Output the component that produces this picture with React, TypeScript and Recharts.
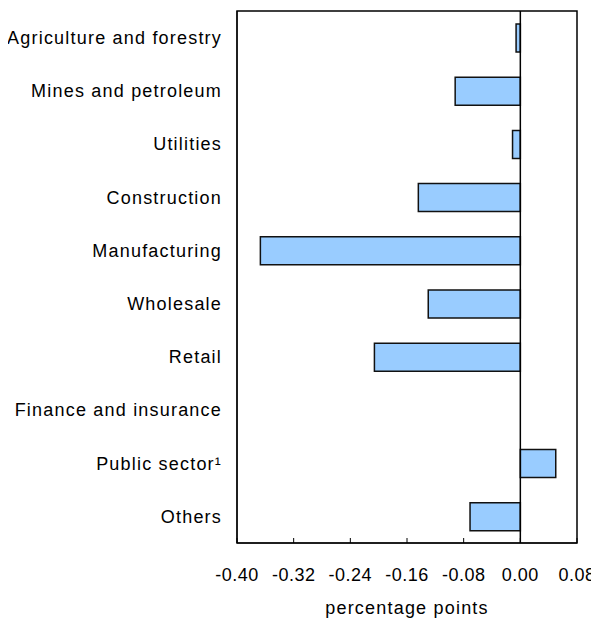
import { Bar, BarChart, ReferenceArea, ReferenceLine, XAxis, YAxis } from "recharts";

const categories = [
  "Agriculture and forestry",
  "Mines and petroleum",
  "Utilities",
  "Construction",
  "Manufacturing",
  "Wholesale",
  "Retail",
  "Finance and insurance",
  "Public sector\u00b9",
  "Others",
];

const contributions = [-0.006, -0.092, -0.011, -0.144, -0.367, -0.13, -0.206, 0, 0.05, -0.071];

const xTicks = [-0.4, -0.32, -0.24, -0.16, -0.08, 0, 0.08];

const data = categories.map((name, i) => ({ name, value: contributions[i] }));

const FONT = "'Liberation Sans', Arial, sans-serif";
const textStyle = { fill: "#000", fontSize: 18, letterSpacing: 1.2 };

export default function App() {
  return (
    <div style={{ width: 591, height: 610, fontFamily: FONT }}>
      {/* no scrollbars: the chart fills the window right to its edges */}
      <style>{"html,body{overflow:hidden}"}</style>
      <BarChart
        width={591}
        height={610}
        data={data}
        layout="vertical"
        margin={{ top: 3, right: 22, left: 0, bottom: 4 }}
      >
        <XAxis
          type="number"
          domain={[-0.4, 0.08]}
          ticks={xTicks}
          tickFormatter={(v: number) => v.toFixed(2)}
          interval={0}
          stroke="#000"
          tick={{ ...textStyle, letterSpacing: 0.5 }}
          tickSize={-5}
          tickMargin={30}
          height={71}
          label={{
            value: "percentage points",
            position: "insideBottom",
            offset: 0,
            ...textStyle,
          }}
        />
        <YAxis
          type="category"
          dataKey="name"
          width={229}
          stroke="#000"
          tickLine={false}
          tickMargin={9}
          interval={0}
          tick={textStyle}
        />
        <ReferenceArea x1={-0.4} x2={0.08} fill="none" stroke="#000" strokeWidth={1.5} ifOverflow="visible" />
        <ReferenceLine x={0} stroke="#000" strokeWidth={1.5} />
        <Bar
          dataKey="value"
          fill="#99ccff"
          stroke="#111"
          strokeWidth={1.5}
          barSize={28}
          isAnimationActive={false}
        />
      </BarChart>
    </div>
  );
}
